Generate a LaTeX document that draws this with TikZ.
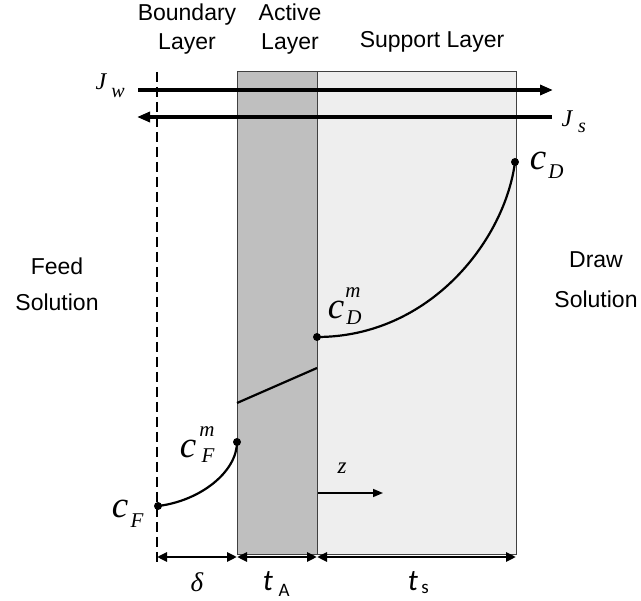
\documentclass[tikz,border=0pt]{standalone}
\usepackage{fontspec}
\setmainfont{Liberation Serif}
\newfontfamily\sansf{Liberation Sans}
\newfontfamily\calf{Carlito}
\usetikzlibrary{arrows.meta}
\definecolor{activegray}{HTML}{BFBFBF}
\definecolor{supportgray}{HTML}{EEEEEE}
\definecolor{edgegray}{HTML}{404040}
\begin{document}
\begin{tikzpicture}[x=1pt,y=-1pt,
 lbl/.style={font=\sansf\fontsize{23}{29}\selectfont, align=center, inner sep=0},
 flux/.style={line width=3.2pt, -{Triangle[length=13pt,width=10pt]}},
 dimarrow/.style={line width=2.8pt, {Triangle[length=10pt,width=9pt]}-{Triangle[length=10pt,width=9pt]}},
 prof/.style={line width=2.2pt},
 dot/.style={circle, fill=black, inner sep=0, minimum size=8pt},
 bigc/.style={font=\fontsize{37}{37}\selectfont\itshape, inner sep=0},
 idx/.style={font=\fontsize{21}{21}\selectfont\itshape, inner sep=0},
 jl/.style={font=\fontsize{24}{24}\selectfont\itshape, inner sep=0},
 layerbox/.style={draw=edgegray, line width=1pt},
]
\useasboundingbox (0,0) rectangle (641,601);
\fill[white] (0,0) rectangle (641,601);
% layers
\draw[layerbox, fill=activegray] (237,72) rectangle (317,555);
\draw[layerbox, fill=supportgray] (317,72) rectangle (516,555);
% boundary layer edge
\draw[line width=2.2pt, dash pattern=on 10pt off 5pt] (157,72) -- (157,566);
% headings
\node[lbl] (hb) at (187,29) {Boundary\\Layer};
\node[lbl] (ha) at (290,29) {Active\\Layer};
\node[lbl] (hs) at (432,42) {Support Layer};
\node[lbl, font=\sansf\fontsize{23}{36}\selectfont] (feed) at (57,284) {Feed\\Solution};
\node[lbl, font=\sansf\fontsize{23}{40}\selectfont] (draw) at (596,280) {Draw\\Solution};
% fluxes
\coordinate (jw0) at (138,90);
\coordinate (jw1) at (553,90);
\coordinate (js0) at (552,117);
\coordinate (js1) at (137,117);
\draw[flux] (jw0) -- (jw1);
\draw[flux] (js0) -- (js1);
\node[jl] (Jw) at (101,82) {J};
\node[idx, font=\fontsize{20}{20}\selectfont\itshape] (Jwi) at (118,93) {w};
\node[jl] (Js) at (567,119) {J};
\node[idx, font=\fontsize{20}{20}\selectfont\itshape] (Jsi) at (582,128) {s};
% concentration profile
\node[dot] (pF) at (158,506) {};
\node[dot] (pFm) at (237,442) {};
\node[dot] (pDm) at (317,337) {};
\node[dot] (pD) at (515,162) {};
\coordinate (a0) at (237,403);
\coordinate (a1) at (317,368);
\draw[prof] (pF.center) .. controls (200,501) and (237,472) .. (pFm.center);
\draw[prof] (a0) -- (a1);
\draw[prof] (pDm.center) .. controls (430,337) and (505,240) .. (pD.center);
% labels
\node[bigc] (cF) at (120,509) {c};
\node[idx] (cFs) at (137,521) {F};
\node[bigc] (cFm) at (188,449) {c};
\node[idx] (cFms) at (208,456) {F};
\node[idx] (cFmm) at (207,432) {m};
\node[bigc] (cDm) at (336,310) {c};
\node[idx] (cDms) at (354,318) {D};
\node[idx] (cDmm) at (353,293) {m};
\node[bigc] (cD) at (538,161) {c};
\node[idx] (cDs) at (556,172) {D};
% z axis
\coordinate (z0) at (318,493);
\coordinate (z1) at (383,493);
\draw[line width=1.5pt, -{Triangle[length=10pt,width=8pt]}] (z0) -- (z1);
\node[jl, font=\fontsize{23}{23}\selectfont\itshape] (zl) at (342,468) {z};
% dimensions
\coordinate (d0) at (157,557);
\coordinate (d1) at (237,557);
\coordinate (d2) at (317,557);
\coordinate (d3) at (516,557);
\draw[dimarrow] (d0) -- (d1);
\draw[dimarrow] (d1) -- (d2);
\draw[dimarrow] (d2) -- (d3);
\node[inner sep=0, font=\fontsize{27}{27}\selectfont\itshape] (delta) at (197,582) {δ};
\node[inner sep=0, font=\calf\fontsize{30}{30}\selectfont\itshape] (tA) at (268,581) {t};
\node[inner sep=0, font=\calf\fontsize{19}{19}\selectfont] (tAi) at (284,590) {A};
\node[inner sep=0, font=\calf\fontsize{30}{30}\selectfont\itshape] (tS) at (413,581) {t};
\node[inner sep=0, font=\calf\fontsize{19}{19}\selectfont] (tSi) at (425,589) {s};
\end{tikzpicture}
\end{document}
